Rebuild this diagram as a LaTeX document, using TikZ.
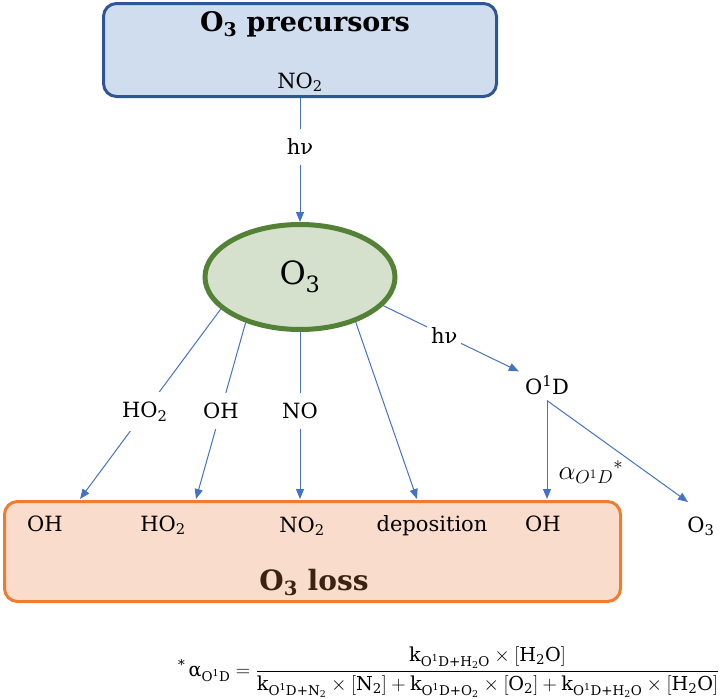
\documentclass[tikz,border=0pt]{standalone}
\usepackage{amsmath}
\usepackage{graphicx}
\usepackage{fontspec}
\setmainfont{DejaVu Serif}
\usetikzlibrary{arrows.meta,shapes.geometric}
\definecolor{bluefill}{HTML}{D0DDEF}
\definecolor{blueline}{HTML}{2F5597}
\definecolor{greenfill}{HTML}{D5E1CC}
\definecolor{greenline}{HTML}{538135}
\definecolor{orangefill}{HTML}{F9DCCB}
\definecolor{orangeline}{HTML}{ED7D31}
\definecolor{conncol}{HTML}{4472C4}
\definecolor{losstext}{HTML}{3B2314}
\newcommand\oneD{O\textsuperscript{1}D}
\newcommand\tsub[1]{\textsubscript{#1}}
\tikzset{
  lbl/.style={font=\fontsize{21}{25}\selectfont, inner sep=0pt},
  conn/.style={draw=conncol, line width=1pt, -{Triangle[length=10pt,width=8pt]}},
  gaplbl/.style={lbl, fill=white, inner xsep=4pt, inner ysep=10pt},
  roundbox/.style={line width=3pt, rounded corners=13pt},
}
\begin{document}
\begin{tikzpicture}[x=1pt,y=-1pt]
\useasboundingbox (0,0) rectangle (721,699);
% top box
\node[roundbox, draw=blueline, fill=bluefill, minimum width=393pt, minimum height=93pt] (prec) at (300,50) {};
\node[font=\bfseries\fontsize{27}{30}\selectfont, anchor=base] (prectitle) at (305,31) {O\tsub{3} precursors};
\node[lbl, anchor=base] (no2top) at (300,88) {NO\tsub{2}};
% ozone ellipse
\node[ellipse, draw=greenline, fill=greenfill, line width=5pt, minimum width=190pt, minimum height=105pt, inner sep=0pt, font=\fontsize{32}{36}\selectfont] (o3) at (300,277) {O\tsub{3}};
\draw[conn] (prec.south) -- node[gaplbl, pos=0.395] (hv1) {hν} (o3.north);
% loss box
\node[roundbox, draw=orangeline, fill=orangefill, minimum width=616pt, minimum height=100pt] (loss) at (312.5,551.5) {};
\node[lbl, anchor=base] (l1) at (45,531) {OH};
\node[lbl, anchor=base] (l2) at (163,531) {HO\tsub{2}};
\node[lbl, anchor=base] (l3) at (302,532) {NO\tsub{2}};
\node[lbl, anchor=base] (l4) at (432,531) {deposition};
\node[lbl, anchor=base] (l5) at (543,531) {OH};
\node[lbl, anchor=base] (o3r) at (701,532) {O\tsub{3}};
\node[font=\bfseries\fontsize{28}{32}\selectfont, text=losstext, anchor=base] (losstitle) at (314,590) {O\tsub{3} loss};
% O1D
\node[lbl, inner sep=6pt] (o1d) at (547,385) {\oneD};
\node[inner sep=0pt] (alpha) at (591,472) {\scalebox{1.3}{\fontsize{20}{24}\selectfont$\alpha_{O^1D}{}^{*}$}};
% targets
\coordinate (tHO2) at (80,499);
\coordinate (tOH) at (196,499);
\coordinate (tNO) at (300,499);
\coordinate (tdep) at (417,499);
\coordinate (tOH2) at (547,499);
\coordinate (tO3r) at (688,502);
% connectors
\draw[conn] (o3.202) -- node[gaplbl, pos=0.54] (lab1) {HO\tsub{2}} (tHO2);
\draw[conn] (o3.220) -- node[gaplbl, pos=0.5] (lab2) {OH} (tOH);
\draw[conn] (o3.south) -- node[gaplbl, pos=0.473] (lab3) {NO} (tNO);
\draw[conn] (o3.321) -- (tdep);
\draw[conn] (o3.341) -- node[gaplbl, inner ysep=7pt, pos=0.45] (lab4) {hν} (o1d);
\draw[conn] (o1d.south) -- (tOH2);
\draw[conn] (o1d.south) -- (tO3r);
% formula
\node[anchor=west, inner sep=0pt] (formula) at (178,672) {\resizebox{541pt}{!}{\fontsize{20}{24}\selectfont\textsuperscript{*}\,$\text{α}_{\text{\oneD}} = \dfrac{\text{k}_{\text{\oneD+H\tsub{2}O}}\times[\text{H\tsub{2}O}]}{\text{k}_{\text{\oneD+N\tsub{2}}}\times[\text{N\tsub{2}}]+\text{k}_{\text{\oneD+O\tsub{2}}}\times[\text{O\tsub{2}}]+\text{k}_{\text{\oneD+H\tsub{2}O}}\times[\text{H\tsub{2}O}]}$}};
\end{tikzpicture}
\end{document}
